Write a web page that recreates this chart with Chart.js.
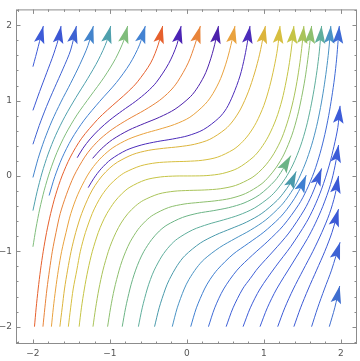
<!DOCTYPE html>
<html><head><meta charset="utf-8">
<script src="https://cdn.jsdelivr.net/npm/chart.js@4.4.1/dist/chart.umd.min.js"></script>
<style>html,body{margin:0;padding:0;background:#fff;}#wrap{width:360px;height:361px;}</style>
</head><body><div id="wrap"><canvas id="c" width="360" height="361"></canvas></div>
<script>
// ---- data: streamline points ----
const line01 = [[-2,1.45],[-1.93,1.72],[-1.865,1.99]];
const line02 = [[-2,0.87],[-1.913,1.12],[-1.821,1.37],[-1.73,1.62],[-1.655,1.87],[-1.635,1.99]];
const line03 = [[-2,0.42],[-1.918,0.67],[-1.824,0.92],[-1.719,1.17],[-1.61,1.42],[-1.51,1.67],[-1.435,1.99]];
const line04 = [[-2,-0.02],[-1.933,0.23],[-1.851,0.48],[-1.753,0.73],[-1.637,0.98],[-1.51,1.23],[-1.39,1.48],[-1.285,1.73],[-1.215,1.99]];
const line05 = [[-2,-0.46],[-1.946,-0.21],[-1.882,0.04],[-1.803,0.29],[-1.705,0.54],[-1.584,0.79],[-1.442,1.04],[-1.29,1.29],[-1.15,1.54],[-1.04,1.79],[-0.99,1.99]];
const line06 = [[-2,-0.94],[-1.96,-0.69],[-1.912,-0.44],[-1.853,-0.19],[-1.78,0.06],[-1.689,0.31],[-1.573,0.56],[-1.428,0.81],[-1.253,1.06],[-1.075,1.31],[-0.925,1.56],[-0.815,1.81],[-0.77,1.99]];
const line07 = [[-1.79,-0.26],[-1.716,-0.01],[-1.621,0.24],[-1.497,0.49],[-1.335,0.74],[-1.132,0.99],[-0.915,1.24],[-0.74,1.49],[-0.615,1.74],[-0.54,1.99]];
const line08 = [[-1.98,-2],[-1.958,-1.75],[-1.932,-1.5],[-1.902,-1.25],[-1.866,-1],[-1.823,-0.75],[-1.77,-0.5],[-1.705,-0.25],[-1.622,0],[-1.514,0.25],[-1.367,0.5],[-1.16,0.75],[-1.032,0.875],[-0.893,1],[-0.757,1.125],[-0.641,1.25],[-0.47,1.5],[-0.37,1.75],[-0.315,1.99]];
const line09 = [[-1.425,0.242],[-1.35,0.367],[-1.256,0.492],[-1.14,0.617],[-1.001,0.742],[-0.837,0.867],[-0.664,0.992],[-0.515,1.117],[-0.397,1.242],[-0.236,1.492],[-0.13,1.742],[-0.075,1.99]];
const line10 = [[-1.87,-2],[-1.845,-1.75],[-1.818,-1.5],[-1.785,-1.25],[-1.748,-1],[-1.7,-0.75],[-1.646,-0.5],[-1.566,-0.25],[-1.467,0],[-1.328,0.25],[-1.235,0.375],[-1.116,0.5],[-0.962,0.625],[-0.767,0.75],[-0.548,0.875],[-0.359,1],[-0.22,1.125],[-0.121,1.25],[0.017,1.5],[0.107,1.75],[0.175,1.99]];
const line11 = [[-1.225,0.233],[-1.113,0.358],[-0.966,0.483],[-0.754,0.608],[-0.554,0.696],[-0.354,0.78],[-0.154,0.886],[0.046,1.052],[0.146,1.185],[0.246,1.373],[0.33,1.623],[0.39,1.873],[0.41,1.99]];
const line12 = [[-1.76,-2],[-1.735,-1.75],[-1.705,-1.5],[-1.67,-1.25],[-1.627,-1],[-1.57,-0.75],[-1.508,-0.5],[-1.419,-0.25],[-1.296,0],[-1.213,0.125],[-1.106,0.25],[-0.961,0.375],[-0.761,0.487],[-0.561,0.561],[-0.361,0.619],[-0.161,0.683],[0.039,0.779],[0.239,0.955],[0.339,1.094],[0.439,1.294],[0.523,1.544],[0.585,1.794],[0.625,1.99]];
const line13 = [[-1.282,-0.155],[-1.208,-0.03],[-1.114,0.095],[-0.986,0.22],[-0.786,0.342],[-0.586,0.412],[-0.386,0.456],[-0.186,0.49],[0.014,0.534],[0.214,0.614],[0.414,0.768],[0.514,0.895],[0.6,1.076],[0.69,1.326],[0.75,1.576],[0.795,1.826],[0.82,1.99]];
const line14 = [[-1.65,-2],[-1.62,-1.75],[-1.59,-1.5],[-1.55,-1.25],[-1.504,-1],[-1.444,-0.75],[-1.367,-0.5],[-1.262,-0.25],[-1.192,-0.125],[-1.102,0],[-1.002,0.105],[-0.902,0.183],[-0.702,0.285],[-0.502,0.339],[-0.302,0.367],[-0.102,0.388],[0.098,0.42],[0.298,0.486],[0.498,0.62],[0.598,0.73],[0.698,0.888],[0.798,1.116],[0.88,1.366],[0.945,1.616],[0.995,1.866],[1.02,1.99]];
const line15 = [[-1.54,-2],[-1.51,-1.75],[-1.477,-1.5],[-1.43,-1.25],[-1.384,-1],[-1.318,-0.75],[-1.23,-0.5],[-1.172,-0.375],[-1.101,-0.25],[-1.001,-0.119],[-0.901,-0.023],[-0.801,0.048],[-0.601,0.134],[-0.401,0.174],[-0.201,0.188],[0,0.194],[0.2,0.208],[0.4,0.25],[0.6,0.348],[0.7,0.43],[0.8,0.545],[0.9,0.706],[1,0.936],[1.075,1.186],[1.132,1.436],[1.177,1.686],[1.21,1.99]];
const line16 = [[-1.4,-2],[-1.37,-1.75],[-1.332,-1.5],[-1.286,-1.25],[-1.228,-1],[-1.151,-0.75],[-1.101,-0.625],[-1.04,-0.5],[-0.94,-0.344],[-0.84,-0.231],[-0.74,-0.149],[-0.54,-0.053],[-0.34,-0.013],[-0.14,-0.001],[0.06,0],[0.26,0.005],[0.46,0.032],[0.66,0.102],[0.86,0.248],[0.96,0.365],[1.06,0.528],[1.16,0.758],[1.236,1.008],[1.29,1.258],[1.333,1.508],[1.366,1.758],[1.39,1.99]];
const line17 = [[-1.22,-2],[-1.185,-1.75],[-1.143,-1.5],[-1.09,-1.25],[-1.02,-1],[-0.975,-0.875],[-0.921,-0.75],[-0.855,-0.625],[-0.767,-0.5],[-0.667,-0.398],[-0.567,-0.325],[-0.367,-0.239],[-0.167,-0.203],[0.033,-0.192],[0.233,-0.186],[0.433,-0.17],[0.633,-0.126],[0.833,-0.03],[0.933,0.048],[1.033,0.155],[1.133,0.301],[1.233,0.502],[1.318,0.752],[1.382,1.002],[1.43,1.252],[1.468,1.502],[1.498,1.752],[1.52,1.99]];
const line18 = [[-1.03,-2],[-0.991,-1.75],[-0.943,-1.5],[-0.88,-1.25],[-0.841,-1.125],[-0.794,-1],[-0.737,-0.875],[-0.637,-0.713],[-0.537,-0.599],[-0.437,-0.517],[-0.237,-0.419],[-0.037,-0.373],[0.163,-0.351],[0.363,-0.331],[0.563,-0.299],[0.763,-0.233],[0.963,-0.111],[1.063,-0.013],[1.163,0.117],[1.263,0.291],[1.364,0.541],[1.436,0.791],[1.49,1.041],[1.535,1.291],[1.57,1.541],[1.6,1.791],[1.62,1.99]];
const line19 = [[-0.84,-2],[-0.796,-1.75],[-0.74,-1.5],[-0.706,-1.375],[-0.666,-1.25],[-0.618,-1.125],[-0.558,-1],[-0.458,-0.845],[-0.358,-0.731],[-0.258,-0.651],[-0.058,-0.551],[0.142,-0.495],[0.342,-0.461],[0.542,-0.421],[0.742,-0.359],[0.942,-0.251],[1.142,-0.065],[1.242,0.081],[1.35,0.27]];
const line20 = [[-0.63,-2],[-0.58,-1.75],[-0.515,-1.5],[-0.474,-1.375],[-0.424,-1.25],[-0.324,-1.063],[-0.224,-0.93],[-0.124,-0.835],[0.076,-0.715],[0.276,-0.641],[0.476,-0.583],[0.676,-0.519],[0.876,-0.427],[1.076,-0.281],[1.176,-0.175],[1.276,-0.037],[1.376,0.146],[1.476,0.396],[1.55,0.646],[1.606,0.896],[1.652,1.146],[1.69,1.396],[1.72,1.646],[1.75,1.99]];
const line21 = [[-0.42,-2],[-0.36,-1.75],[-0.28,-1.5],[-0.228,-1.375],[-0.126,-1.19],[-0.026,-1.058],[0.174,-0.891],[0.374,-0.783],[0.574,-0.699],[0.774,-0.613],[0.974,-0.497],[1.174,-0.323],[1.274,-0.2],[1.374,-0.045],[1.42,0.06]];
const line22 = [[-0.19,-2],[-0.125,-1.75],[-0.035,-1.5],[0.026,-1.375],[0.126,-1.22],[0.226,-1.105],[0.426,-0.949],[0.626,-0.831],[0.826,-0.719],[1.026,-0.583],[1.226,-0.391],[1.326,-0.259],[1.426,-0.092],[1.536,0.158],[1.62,0.408],[1.685,0.658],[1.736,0.908],[1.778,1.158],[1.813,1.408],[1.842,1.658],[1.87,1.99]];
const line23 = [[0.05,-2],[0.124,-1.75],[0.229,-1.5],[0.3,-1.375],[0.4,-1.239],[0.6,-1.039],[0.8,-0.893],[1,-0.745],[1.2,-0.561],[1.3,-0.442],[1.4,-0.296],[1.5,-0.112],[1.55,0.01]];
const line24 = [[0.28,-2],[0.362,-1.75],[0.478,-1.5],[0.652,-1.25],[0.852,-1.05],[1.052,-0.866],[1.252,-0.66],[1.452,-0.382],[1.552,-0.193],[1.652,0.05],[1.73,0.3],[1.792,0.55],[1.842,0.8],[1.883,1.05],[1.918,1.3],[1.945,1.55],[1.965,1.8],[1.98,1.99]];
const line25 = [[0.51,-2],[0.6,-1.75],[0.724,-1.5],[0.824,-1.36],[0.924,-1.222],[1.124,-0.996],[1.324,-0.758],[1.524,-0.452],[1.624,-0.248],[1.724,0.012],[1.75,0.1]];
const line26 = [[0.73,-2],[0.824,-1.75],[0.95,-1.5],[1.15,-1.206],[1.35,-0.936],[1.55,-0.62],[1.65,-0.421],[1.75,-0.175],[1.85,0.144],[1.911,0.394],[1.961,0.644],[1.99,0.93]];
const line27 = [[0.95,-2],[1.045,-1.75],[1.166,-1.5],[1.366,-1.168],[1.566,-0.832],[1.666,-0.635],[1.766,-0.403],[1.866,-0.115],[1.925,0.135],[1.97,0.41]];
const line28 = [[1.18,-2],[1.272,-1.75],[1.383,-1.5],[1.509,-1.25],[1.637,-1],[1.753,-0.75],[1.853,-0.5],[1.925,-0.25],[1.97,0]];
const line29 = [[1.39,-2],[1.477,-1.75],[1.577,-1.5],[1.685,-1.25],[1.792,-1],[1.885,-0.75],[1.97,-0.44]];
const line30 = [[1.62,-2],[1.699,-1.75],[1.787,-1.5],[1.879,-1.25],[1.99,-0.88]];
const line31 = [[1.85,-2],[1.921,-1.75],[1.985,-1.46]];

const xTickValues = [-2, -1, 0, 1, 2];
const yTickValues = [-2, -1, 0, 1, 2];
const tickLabels = {"-2": "\u22122", "-1": "\u22121", "0": "0", "1": "1", "2": "2"};

// ---- styles ----
const lineColors = ['#3d5bd8','#3c57d4','#3e62d2','#4384cc','#4fa0ad','#80bd7c','#4382d2','#e6602d',
  '#4b24b4','#e8843a','#4d22ac','#e9a23e','#4b2cba','#dcb43c','#d7bf40','#c5c445','#a9c35a','#8dbf6e',
  '#6cb486','#5fae9c','#4a9aab','#4a93c4','#3f7fd1','#3e6ad6','#3c5ed6','#3d5cd8','#3c5cd8','#3b5ad6',
  '#3b59d5','#3d62d4','#3f6ecf'];

const streamlines = [line01,line02,line03,line04,line05,line06,line07,line08,line09,line10,line11,line12,
  line13,line14,line15,line16,line17,line18,line19,line20,line21,line22,line23,line24,line25,line26,line27,
  line28,line29,line30,line31];

const datasets = streamlines.map((pts, i) => ({
  data: pts.map(p => ({x: p[0], y: p[1]})),
  borderColor: lineColors[i],
  backgroundColor: lineColors[i],
  borderWidth: 1.0,
  showLine: true,
  pointRadius: 0,
  pointHoverRadius: 0,
  tension: 0.3,
  fill: false
}));

const arrowPlugin = {
  id: 'arrows',
  afterDatasetsDraw(chart) {
    const ctx = chart.ctx;
    chart.data.datasets.forEach((ds, i) => {
      const pts = chart.getDatasetMeta(i).data;
      const tip = pts[pts.length - 1];
      let j = pts.length - 2;
      while (j > 0 && Math.hypot(tip.x - pts[j].x, tip.y - pts[j].y) < 8) j--;
      const dx = tip.x - pts[j].x, dy = tip.y - pts[j].y;
      const L = Math.hypot(dx, dy) || 1;
      const ux = dx / L, uy = dy / L, nx = -uy, ny = ux;
      const len = 17.5, hw = 5.3, notch = 3.5;
      const bx = tip.x - ux * len, by = tip.y - uy * len;
      ctx.save();
      ctx.beginPath();
      ctx.moveTo(tip.x, tip.y);
      ctx.lineTo(bx + nx * hw, by + ny * hw);
      ctx.lineTo(bx + ux * notch, by + uy * notch);
      ctx.lineTo(bx - nx * hw, by - ny * hw);
      ctx.closePath();
      ctx.fillStyle = ds.borderColor;
      ctx.fill();
      ctx.restore();
    });
  }
};

const framePlugin = {
  id: 'frame',
  afterDraw(chart) {
    const {ctx, chartArea: a, scales: {x, y}} = chart;
    ctx.save();
    ctx.strokeStyle = '#8c8c8c';
    ctx.lineWidth = 1;
    ctx.strokeRect(a.left + 0.5, a.top + 0.5, a.right - a.left - 1, a.bottom - a.top - 1);
    ctx.beginPath();
    for (let k = -11; k <= 11; k++) {
      const v = k / 5;
      const major = (k % 5 === 0);
      const t = major ? 4.5 : 2.5;
      const px = Math.round(x.getPixelForValue(v)) + 0.5;
      if (px > a.left + 1 && px < a.right - 1) {
        ctx.moveTo(px, a.bottom); ctx.lineTo(px, a.bottom - t);
        ctx.moveTo(px, a.top); ctx.lineTo(px, a.top + t);
      }
      const py = Math.round(y.getPixelForValue(v)) + 0.5;
      if (py > a.top + 1 && py < a.bottom - 1) {
        ctx.moveTo(a.left, py); ctx.lineTo(a.left + t, py);
        ctx.moveTo(a.right, py); ctx.lineTo(a.right - t, py);
      }
    }
    ctx.stroke();
    ctx.restore();
  }
};

const tickFont = {family: 'DejaVu Sans', size: 9};

new Chart(document.getElementById('c'), {
  type: 'scatter',
  data: {datasets},
  options: {
    responsive: false,
    animation: false,
    events: [],
    layout: {padding: {top: 1, right: 3, left: 0, bottom: 0}},
    plugins: {legend: {display: false}, tooltip: {enabled: false}},
    scales: {
      x: {
        type: 'linear', min: -2.22, max: 2.21,
        grid: {display: false, drawTicks: false},
        border: {display: false},
        afterBuildTicks: s => { s.ticks = xTickValues.map(v => ({value: v})); },
        afterFit: s => { s.height = 17; },
        ticks: {font: tickFont, color: '#555', padding: 4, maxRotation: 0, autoSkip: false,
          callback: v => tickLabels[String(v)]}
      },
      y: {
        type: 'linear', min: -2.23, max: 2.21,
        grid: {display: false, drawTicks: false},
        border: {display: false},
        afterBuildTicks: s => { s.ticks = yTickValues.map(v => ({value: v})); },
        afterFit: s => { s.width = 16; },
        ticks: {font: tickFont, color: '#555', padding: 4, autoSkip: false,
          callback: v => tickLabels[String(v)]}
      }
    }
  },
  plugins: [arrowPlugin, framePlugin]
});
</script>
</body></html>
